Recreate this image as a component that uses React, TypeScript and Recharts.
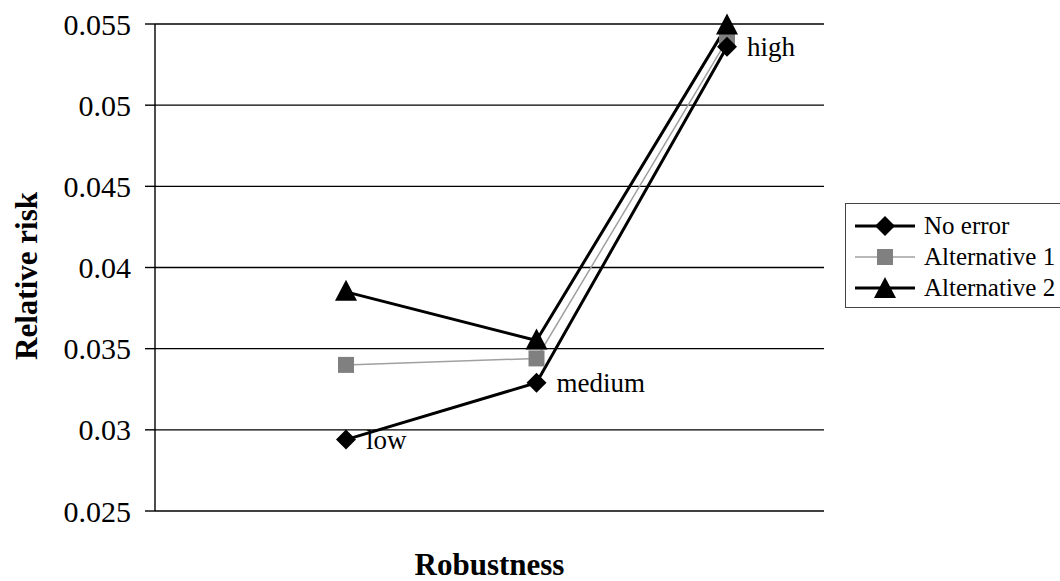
import React from 'react'
import { LineChart, Line, XAxis, YAxis, CartesianGrid, Legend, LabelList } from 'recharts'

const CATEGORIES = ['low', 'medium', 'high']
const NO_ERROR = [0.0294, 0.0329, 0.0536]
const ALT_1 = [0.034, 0.0344, 0.054]
const ALT_2 = [0.0385, 0.0355, 0.0549]
const Y_TICKS = [0.025, 0.03, 0.035, 0.04, 0.045, 0.05, 0.055]
const SERIES_NAMES = ['No error', 'Alternative 1', 'Alternative 2']

const FONT = '"Liberation Serif", "Times New Roman", serif'

const data = CATEGORIES.map((cat, i) => ({
  cat,
  noError: NO_ERROR[i],
  alt1: ALT_1[i],
  alt2: ALT_2[i],
}))

const Diamond = (props: any) => {
  const { cx, cy } = props
  if (cx == null || cy == null) return <g />
  return <path d={`M${cx},${cy - 10}L${cx + 10},${cy}L${cx},${cy + 10}L${cx - 10},${cy}Z`} fill="#000" />
}

const Square = (props: any) => {
  const { cx, cy } = props
  if (cx == null || cy == null) return <g />
  return <rect x={cx - 8} y={cy - 8} width={16} height={16} fill="#808080" />
}

const Triangle = (props: any) => {
  const { cx, cy } = props
  if (cx == null || cy == null) return <g />
  return <path d={`M${cx},${cy - 12}L${cx + 11},${cy + 9}L${cx - 11},${cy + 9}Z`} fill="#000" />
}

const LegendBox = () => {
  const rows = [
    { name: SERIES_NAMES[0], color: '#000', width: 3, marker: 'diamond' },
    { name: SERIES_NAMES[1], color: '#a0a0a0', width: 1.5, marker: 'square' },
    { name: SERIES_NAMES[2], color: '#000', width: 3, marker: 'triangle' },
  ]
  return (
    <div
      style={{
        border: '1px solid #444',
        width: 240,
        padding: '6px 0 4px 6px',
        background: '#fff',
        fontFamily: FONT,
        fontSize: 25,
        lineHeight: '31px',
        color: '#000',
      }}
    >
      {rows.map((r) => (
        <div key={r.name} style={{ display: 'flex', alignItems: 'center', height: 31 }}>
          <svg width={70} height={24} style={{ flex: 'none' }}>
            <line x1={3} x2={63} y1={12} y2={12} stroke={r.color} strokeWidth={r.width} />
            {r.marker === 'diamond' && <Diamond cx={33} cy={12} />}
            {r.marker === 'square' && <Square cx={33} cy={12} />}
            {r.marker === 'triangle' && <Triangle cx={33} cy={13} />}
          </svg>
          <span style={{ marginLeft: 2, whiteSpace: 'nowrap' }}>{r.name}</span>
        </div>
      ))}
    </div>
  )
}

const YTitle = () => {
  const bx = 37
  const cy = 276
  return (
    <text
      x={bx}
      y={cy}
      transform={`rotate(-90, ${bx}, ${cy})`}
      textAnchor="middle"
      fontFamily={FONT}
      fontSize={31}
      fontWeight="bold"
      fill="#000"
    >
      Relative risk
    </text>
  )
}

const XTitle = (props: any) => {
  const { viewBox } = props
  return (
    <text
      x={viewBox.x + viewBox.width / 2}
      y={575}
      textAnchor="middle"
      fontFamily={FONT}
      fontSize={31}
      fontWeight="bold"
      fill="#000"
    >
      Robustness
    </text>
  )
}

export default function App() {
  return (
    <div style={{ position: 'absolute', left: 0, top: 0, width: 1060, height: 581, overflow: 'hidden', background: '#fff' }}>
      <LineChart
        width={1060}
        height={581}
        data={data}
        margin={{ top: 24, right: 236, bottom: 0, left: 80 }}
      >
        <CartesianGrid vertical={false} stroke="#000" strokeWidth={1.4} />
        <XAxis
          dataKey="cat"
          type="category"
          padding={{ left: 191, right: 97 }}
          height={70}
          axisLine={false}
          tickLine={false}
          tick={false}
          label={<XTitle />}
        />
        <YAxis
          domain={[0.025, 0.055]}
          ticks={Y_TICKS}
          width={75}
          axisLine={{ stroke: '#000', strokeWidth: 1.4 }}
          tickLine={{ stroke: '#000', strokeWidth: 1.4 }}
          tickSize={10}
          tickMargin={14}
          tick={{ fontFamily: FONT, fontSize: 30, fill: '#000' }}
          label={<YTitle />}
        />
        <Legend
          layout="horizontal"
          verticalAlign="middle"
          align="center"
          content={<LegendBox />}
          wrapperStyle={{ position: 'absolute', left: 845, top: 203, width: 260 }}
        />
        <Line
          dataKey="alt1"
          name={SERIES_NAMES[1]}
          stroke="#a0a0a0"
          strokeWidth={1.5}
          dot={<Square />}
          activeDot={false}
          isAnimationActive={false}
        />
        <Line
          dataKey="alt2"
          name={SERIES_NAMES[2]}
          stroke="#000"
          strokeWidth={3}
          dot={<Triangle />}
          activeDot={false}
          isAnimationActive={false}
        />
        <Line
          dataKey="noError"
          name={SERIES_NAMES[0]}
          stroke="#000"
          strokeWidth={3}
          dot={<Diamond />}
          activeDot={false}
          isAnimationActive={false}
        >
          <LabelList
            dataKey="cat"
            position="right"
            offset={20}
            style={{ fontFamily: FONT, fontSize: 27, fill: '#000' }}
          />
        </Line>
      </LineChart>
    </div>
  )
}
